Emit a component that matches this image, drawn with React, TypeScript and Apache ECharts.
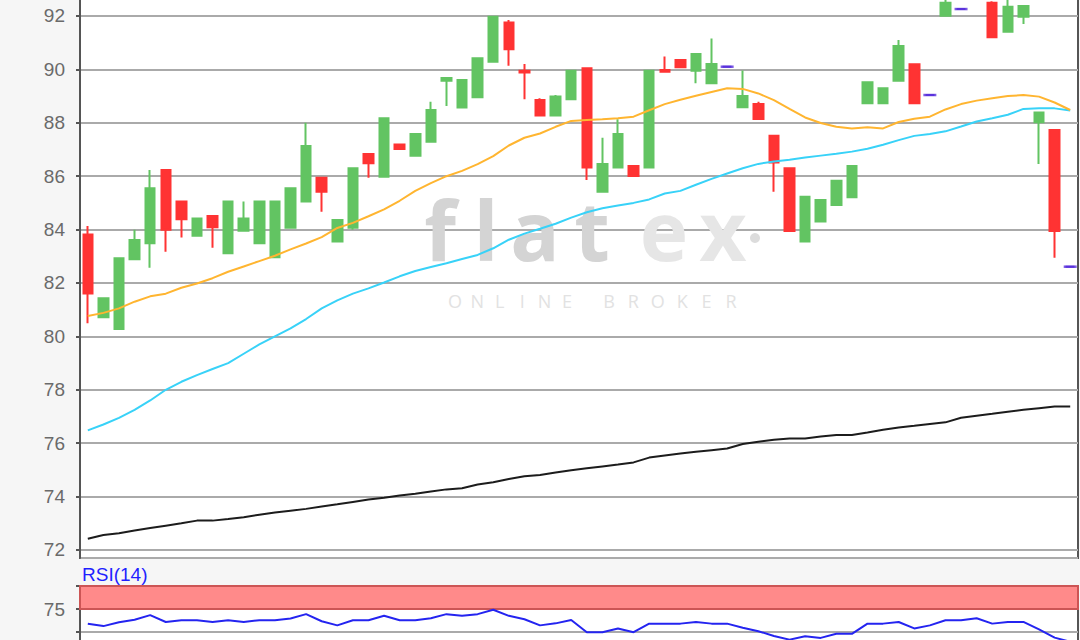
import React, { useEffect, useRef } from 'react';
import * as echarts from 'echarts';

// ---- data ----
const days: string[] = Array.from({ length: 64 }, (_, i) => `T${i + 1}`);

const opens = [
  83.82, 80.72, 80.28, 82.89, 83.49, 86.23, 85.05, 83.77, 84.51, 83.11,
  83.96, 83.49, 82.96, 84.07, 85.05, 85.94, 83.55, 84.07, 86.83, 85.98,
  87.19, 86.77, 87.29, 89.57, 88.57, 88.96, 90.29, 91.76, 89.95, 88.85,
  88.27, 88.88, 90.04, 85.42, 86.33, 86.38, 86.33, 89.98, 90.35, 89.95,
  89.48, 90.10, 88.58, 88.70, 87.51, 86.30, 83.55, 84.30, 84.92, 85.21,
  88.73, 88.73, 89.57, 90.19, 89.04, 92.01, 92.26, 92.90, 92.50, 91.41,
  91.97, 88.02, 87.73, 82.61,
];
const closes = [
  81.61, 81.43, 82.93, 83.61, 85.55, 83.99, 84.39, 84.42, 84.09, 85.05,
  84.42, 85.05, 85.05, 85.55, 87.13, 85.42, 84.36, 86.30, 86.48, 88.17,
  87.02, 87.58, 88.48, 89.68, 89.60, 90.42, 91.97, 90.75, 89.88, 88.27,
  88.98, 89.95, 86.33, 86.46, 87.58, 86.01, 89.95, 89.91, 90.08, 90.58,
  90.20, 90.10, 89.00, 88.14, 86.51, 83.95, 85.23, 85.11, 85.83, 86.38,
  89.52, 89.29, 90.88, 88.73, 89.04, 92.50, 92.26, 93.40, 91.20, 92.35,
  92.37, 88.39, 83.95, 82.61,
];
const lows = [
  80.49, 80.72, 80.28, 82.89, 82.57, 83.17, 83.70, 83.77, 83.32, 83.11,
  83.96, 83.49, 82.96, 84.07, 85.05, 84.67, 83.55, 83.99, 85.94, 85.98,
  87.02, 86.77, 87.29, 88.63, 88.57, 88.96, 90.29, 90.14, 88.88, 88.27,
  88.27, 88.88, 85.86, 85.42, 86.33, 86.01, 86.33, 89.91, 90.08, 89.48,
  89.48, 90.10, 88.58, 88.14, 85.42, 83.95, 83.55, 84.30, 84.92, 85.21,
  88.73, 88.73, 89.57, 88.73, 89.04, 92.01, 92.26, 92.75, 91.20, 91.41,
  91.70, 86.46, 82.95, 82.61,
];
const highs = [
  84.13, 81.43, 82.93, 83.99, 86.23, 86.23, 85.05, 84.42, 84.51, 85.05,
  85.05, 85.05, 85.05, 85.55, 88.00, 85.94, 84.36, 86.30, 86.83, 88.17,
  87.19, 87.58, 88.79, 89.68, 89.60, 90.42, 92.00, 91.85, 90.20, 88.92,
  89.04, 89.95, 90.04, 87.44, 88.13, 86.38, 89.95, 90.48, 90.35, 90.58,
  91.16, 90.10, 89.96, 88.79, 87.51, 86.30, 85.23, 85.11, 85.83, 86.38,
  89.52, 89.29, 91.10, 90.19, 89.04, 92.80, 92.26, 93.60, 92.55, 92.70,
  92.37, 88.39, 87.73, 82.61,
];
const ma20 = [
  80.76, 80.88, 81.05, 81.30, 81.50, 81.60, 81.82, 81.98, 82.18, 82.42,
  82.62, 82.82, 83.02, 83.26, 83.48, 83.72, 84.06, 84.25, 84.50, 84.76,
  85.08, 85.45, 85.74, 86.00, 86.20, 86.45, 86.75, 87.15, 87.44, 87.60,
  87.85, 88.07, 88.10, 88.13, 88.17, 88.23, 88.47, 88.70, 88.86, 89.01,
  89.15, 89.29, 89.27, 89.10, 88.85, 88.52, 88.20, 87.99, 87.85, 87.79,
  87.83, 87.79, 88.03, 88.15, 88.23, 88.50, 88.70, 88.83, 88.92, 89.00,
  89.04, 88.98, 88.76, 88.48,
];
const ma50 = [
  76.48, 76.70, 76.95, 77.25, 77.60, 78.00, 78.30, 78.55, 78.78, 79.00,
  79.35, 79.70, 80.00, 80.30, 80.65, 81.05, 81.35, 81.60, 81.80, 82.02,
  82.25, 82.45, 82.60, 82.74, 82.90, 83.05, 83.30, 83.62, 83.85, 84.03,
  84.22, 84.45, 84.65, 84.80, 84.90, 85.00, 85.13, 85.35, 85.45, 85.68,
  85.90, 86.10, 86.30, 86.46, 86.55, 86.62, 86.70, 86.77, 86.84, 86.92,
  87.03, 87.18, 87.35, 87.51, 87.58, 87.68, 87.86, 88.05, 88.17, 88.30,
  88.52, 88.54, 88.54, 88.46,
];
const ma200 = [
  72.42, 72.56, 72.63, 72.73, 72.82, 72.91, 73.00, 73.10, 73.10, 73.16,
  73.23, 73.32, 73.40, 73.47, 73.54, 73.63, 73.71, 73.80, 73.89, 73.96,
  74.04, 74.11, 74.19, 74.27, 74.31, 74.45, 74.54, 74.66, 74.76, 74.81,
  74.90, 74.99, 75.06, 75.13, 75.20, 75.28, 75.46, 75.54, 75.61, 75.68,
  75.74, 75.80, 75.97, 76.05, 76.13, 76.18, 76.18, 76.25, 76.31, 76.31,
  76.40, 76.50, 76.59, 76.65, 76.72, 76.78, 76.95, 77.03, 77.10, 77.18,
  77.25, 77.31, 77.37, 77.37,
];
const rsi14 = [
  58.9, 56.4, 60.6, 63.3, 68.3, 60.9, 62.8, 62.8, 60.9, 62.8,
  60.9, 62.8, 62.8, 64.7, 69.4, 61.7, 57.2, 62.8, 62.8, 67.6,
  62.8, 62.8, 65.0, 69.4, 67.6, 69.4, 74.2, 67.6, 63.9, 57.2,
  59.4, 63.1, 49.8, 49.8, 53.9, 49.8, 59.1, 59.1, 59.1, 60.9,
  59.1, 59.1, 54.7, 50.9, 45.6, 41.7, 45.3, 43.6, 48.0, 48.0,
  59.1, 59.1, 60.9, 53.9, 57.2, 62.8, 62.8, 65.0, 59.1, 60.9,
  60.9, 52.8, 43.9, 39.4,
];
const rsiLevel = [75, 100];
const rsiTitle = 'RSI(14)';
const watermarkMain = ['f', 'l', 'a', 't'];
const watermarkTail = ['e', 'x'];
const watermarkSub = 'ONLINE BROKER';

const GREEN = '#62c462';
const RED = '#ff3333';
const PURPLE = '#5a32dc';
const FONT = '"Liberation Sans", Arial, sans-serif';

export default function App() {
  const ref = useRef<HTMLDivElement>(null);

  useEffect(() => {
    document.body.style.margin = '0';
    const chart = echarts.init(ref.current as HTMLDivElement, null, { renderer: 'svg' });

    const ohlc = days.map((_, i) => [opens[i], closes[i], lows[i], highs[i]]);
    const doji = days.map((_, i) => (opens[i] === closes[i] ? closes[i] : '-'));

    const mainX = [440, 486, 535, 592];
    const tailX = [664, 723];
    const subChars = watermarkSub.split('');
    const subGraphics: any[] = [];
    let k1 = 0;
    let k2 = 0;
    let inSecond = false;
    subChars.forEach((ch) => {
      if (ch === ' ') {
        inSecond = true;
        return;
      }
      const x = inSecond ? 609 + k2++ * 24.4 : 455 + k1++ * 22.4;
      subGraphics.push({
        type: 'text',
        x,
        y: 301,
        z: 1,
        silent: true,
        style: {
          text: ch,
          fill: '#e2e2e2',
          font: '18px "Open Sans", sans-serif',
          lineHeight: 16,
          align: 'center',
          verticalAlign: 'middle',
          textAlign: 'center',
          textVerticalAlign: 'middle',
        },
      });
    });

    const letter = (ch: string, x: number, fill: string) => ({
      type: 'text',
      x,
      y: 229,
      z: 1,
      silent: true,
      style: {
        text: ch,
        fill,
        font: 'bold 82px "Open Sans", sans-serif',
        lineHeight: 60,
        align: 'center',
        verticalAlign: 'middle',
        textAlign: 'center',
        textVerticalAlign: 'middle',
      },
    });

    chart.setOption({
      animation: false,
      backgroundColor: '#f6f6f6',
      grid: [
        {
          left: 80, right: 2, top: -50.76, height: 608.76,
          outerBoundsMode: 'none', containLabel: false,
          show: true, backgroundColor: '#ffffff', borderColor: '#555555', borderWidth: 2,
        },
        {
          left: 80, right: 2, top: 586, height: 92,
          outerBoundsMode: 'none', containLabel: false,
          show: true, backgroundColor: '#ffffff', borderColor: '#555555', borderWidth: 2,
        },
      ],
      xAxis: [
        { type: 'category', data: days, gridIndex: 0, boundaryGap: true, show: false },
        { type: 'category', data: days, gridIndex: 1, boundaryGap: true, show: false },
      ],
      yAxis: [
        {
          type: 'value',
          gridIndex: 0,
          min: 71.7,
          max: 94.5,
          minInterval: 2,
          maxInterval: 2,
          axisLine: { show: true, lineStyle: { color: '#555555', width: 2 } },
          axisTick: { show: true, length: 4, lineStyle: { color: '#555555', width: 2 } },
          axisLabel: {
            color: '#6a6a6a',
            fontSize: 19,
            fontFamily: FONT,
            margin: 15,
            showMinLabel: false,
            showMaxLabel: false,
            formatter: (v: number) =>
              Math.abs(v - Math.round(v)) < 1e-6 && Math.round(v) % 2 === 0 && v <= 92
                ? String(Math.round(v))
                : '',
          },
          splitLine: { show: true, lineStyle: { color: '#aaaaaa', width: 2 } },
        },
        {
          type: 'value',
          gridIndex: 1,
          min: 0,
          max: 100,
          interval: 25,
          axisLine: { show: true, lineStyle: { color: '#555555', width: 2 } },
          axisTick: { show: true, length: 4, lineStyle: { color: '#555555', width: 2 } },
          axisLabel: {
            color: '#6a6a6a',
            fontSize: 19,
            fontFamily: FONT,
            margin: 15,
            formatter: (v: number) => (v === 75 ? '75' : ''),
          },
          splitLine: { show: true, lineStyle: { color: '#aaaaaa', width: 2 } },
        },
      ],
      graphic: [
        ...watermarkMain.map((ch, i) => letter(ch, mainX[i], '#d4d4d4')),
        ...watermarkTail.map((ch, i) => letter(ch, tailX[i], '#e6e6e6')),
        { type: 'circle', z: 1, silent: true, shape: { cx: 755, cy: 238, r: 5 }, style: { fill: '#dcdcdc' } },
        ...subGraphics,
        {
          type: 'text',
          x: 82,
          y: 574,
          z: 10,
          silent: true,
          style: {
            text: rsiTitle,
            fill: '#1f1fff',
            font: `19px ${FONT}`,
            align: 'left',
            verticalAlign: 'middle',
            textAlign: 'left',
            textVerticalAlign: 'middle',
          },
        },
      ],
      series: [
        {
          type: 'candlestick',
          xAxisIndex: 0,
          yAxisIndex: 0,
          data: ohlc,
          barWidth: 10,
          itemStyle: {
            color: GREEN,
            color0: RED,
            borderColor: GREEN,
            borderColor0: RED,
            borderColorDoji: PURPLE,
            borderWidth: 2,
          },
        },
        {
          type: 'line', xAxisIndex: 0, yAxisIndex: 0, data: ma200, showSymbol: false, symbol: 'none',
          lineStyle: { color: '#1c1c1c', width: 2 }, z: 3,
        },
        {
          type: 'line', xAxisIndex: 0, yAxisIndex: 0, data: ma50, showSymbol: false, symbol: 'none',
          lineStyle: { color: '#38d2f8', width: 2 }, z: 3,
        },
        {
          type: 'line', xAxisIndex: 0, yAxisIndex: 0, data: ma20, showSymbol: false, symbol: 'none',
          lineStyle: { color: '#ffb530', width: 2 }, z: 3,
        },
        {
          type: 'scatter', xAxisIndex: 0, yAxisIndex: 0, data: doji,
          symbol: 'rect', symbolSize: [13, 2.5], itemStyle: { color: PURPLE }, z: 4, silent: true,
        },
        {
          type: 'line',
          xAxisIndex: 1,
          yAxisIndex: 1,
          data: rsi14,
          showSymbol: false,
          symbol: 'none',
          lineStyle: { color: '#2424f0', width: 2 },
          z: 3,
          markArea: {
            silent: true,
            itemStyle: { color: '#ff8a8a', borderColor: '#cc5555', borderWidth: 2 },
            data: [[{ yAxis: rsiLevel[0] }, { yAxis: rsiLevel[1] }]],
          },
        },
      ],
    });

    return () => chart.dispose();
  }, []);

  return <div ref={ref} style={{ width: 1080, height: 640, background: '#f6f6f6' }} />;
}
